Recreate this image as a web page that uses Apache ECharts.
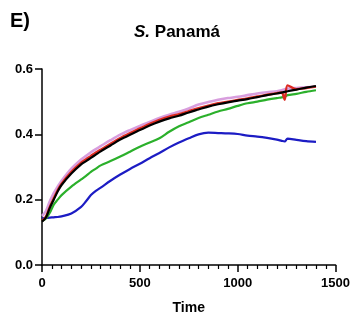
<!DOCTYPE html>
<html>
<head>
<meta charset="utf-8">
<script src="https://cdn.jsdelivr.net/npm/echarts@6/dist/echarts.min.js"></script>
<style>
  html, body { margin: 0; padding: 0; background: #fff; }
  #chart { width: 353px; height: 322px; }
</style>
</head>
<body>
<div id="chart"></div>
<script>
// Sampling times shared by every curve
const times = [0, 20, 40, 60, 80, 100, 150, 200, 225, 250, 275, 300, 350, 400, 450, 500, 550, 600, 650, 700,
  750, 800, 850, 900, 950, 1000, 1050, 1100, 1150, 1200, 1225, 1240, 1255, 1300, 1350, 1400];

const violetVals = [0.150, 0.165, 0.195, 0.220, 0.240, 0.258, 0.295, 0.323, 0.334, 0.345, 0.355, 0.364, 0.382, 0.399, 0.413, 0.426,
  0.438, 0.450, 0.460, 0.469, 0.479, 0.491, 0.499, 0.506, 0.511, 0.515, 0.520, 0.525, 0.529, 0.532, 0.535, 0.538, 0.540, 0.542, 0.544, 0.546];
const blueVals = [0.143, 0.144, 0.145, 0.146, 0.147, 0.149, 0.158, 0.178, 0.195, 0.214, 0.227, 0.237, 0.258, 0.277, 0.294, 0.310,
  0.327, 0.343, 0.360, 0.375, 0.388, 0.400, 0.405, 0.404, 0.403, 0.401, 0.396, 0.393, 0.389, 0.384, 0.380, 0.378, 0.387, 0.383, 0.379, 0.377];
const greenVals = [0.135, 0.142, 0.160, 0.185, 0.200, 0.214, 0.240, 0.262, 0.273, 0.285, 0.295, 0.305, 0.318, 0.332, 0.347, 0.362,
  0.375, 0.388, 0.408, 0.425, 0.437, 0.450, 0.460, 0.470, 0.478, 0.487, 0.495, 0.500, 0.506, 0.511, 0.513, 0.515, 0.520, 0.524, 0.530, 0.535];
const redVals = [0.135, 0.148, 0.178, 0.204, 0.229, 0.249, 0.285, 0.313, 0.324, 0.334, 0.344, 0.353, 0.371, 0.389, 0.404, 0.418,
  0.432, 0.444, 0.454, 0.462, 0.471, 0.480, 0.488, 0.495, 0.500, 0.505, 0.510, 0.516, 0.521, 0.526, 0.528, 0.506, 0.550, 0.538, 0.542, 0.546];
const blackVals = [0.133, 0.145, 0.175, 0.200, 0.225, 0.245, 0.280, 0.308, 0.318, 0.328, 0.338, 0.348, 0.366, 0.384, 0.399, 0.413,
  0.427, 0.439, 0.449, 0.457, 0.467, 0.476, 0.485, 0.492, 0.498, 0.503, 0.508, 0.514, 0.520, 0.525, 0.528, 0.530, 0.532, 0.537, 0.543, 0.548];

const xTicks = [0, 500, 1000, 1500];
const yTicks = [0.0, 0.2, 0.4, 0.6];

const FONT = 'Liberation Sans, Arial, sans-serif';

function pairs(vals) {
  return times.map((t, i) => [t, vals[i]]);
}

function curve(name, vals, color, width) {
  return {
    name: name,
    type: 'line',
    data: pairs(vals),
    showSymbol: false,
    smooth: 0.3,
    lineStyle: { color: color, width: width },
    itemStyle: { color: color },
    animation: false,
    z: 2
  };
}

const chart = echarts.init(document.getElementById('chart'), null, { renderer: 'canvas' });

chart.setOption({
  backgroundColor: '#ffffff',
  animation: false,
  textStyle: { fontFamily: FONT },
  title: [
    {
      text: 'E)',
      left: 5,
      top: 6,
      textStyle: { fontFamily: FONT, fontWeight: 'bold', fontSize: 20, color: '#000' }
    },
    {
      text: '{i|S.}{n| Panamá}',
      left: 172,
      top: 19,
      textAlign: 'center',
      textStyle: {
        rich: {
          i: { fontFamily: FONT, fontWeight: 'bold', fontStyle: 'italic', fontSize: 17, color: '#000' },
          n: { fontFamily: FONT, fontWeight: 'bold', fontSize: 17, color: '#000' }
        }
      }
    }
  ],
  grid: { left: 42, right: 15, top: 69, bottom: 57, containLabel: false },
  xAxis: {
    type: 'value',
    min: xTicks[0],
    max: xTicks[xTicks.length - 1],
    interval: 500,
    name: 'Time',
    nameLocation: 'middle',
    nameGap: 36,
    nameTextStyle: { fontFamily: FONT, fontWeight: 'bold', fontSize: 14, color: '#000' },
    axisLine: { show: true, lineStyle: { color: '#000', width: 1.5 } },
    axisTick: { show: true, length: 7, lineStyle: { color: '#000', width: 1.5 } },
    minorTick: { show: true, splitNumber: 10, length: 4, lineStyle: { color: '#000', width: 1.2 } },
    axisLabel: {
      fontFamily: FONT, fontWeight: 'bold', fontSize: 13, color: '#000', margin: 12,
      formatter: v => String(v)
    },
    splitLine: { show: false }
  },
  yAxis: {
    type: 'value',
    min: yTicks[0],
    max: yTicks[yTicks.length - 1],
    interval: 0.2,
    axisLine: { show: true, lineStyle: { color: '#000', width: 1.5 } },
    axisTick: { show: true, length: 7, lineStyle: { color: '#000', width: 1.5 } },
    axisLabel: {
      fontFamily: FONT, fontWeight: 'bold', fontSize: 13, color: '#000', margin: 9,
      formatter: v => v.toFixed(1)
    },
    splitLine: { show: false }
  },
  series: [
    curve('violet', violetVals, '#d89ede', 2.6),
    curve('blue', blueVals, '#1c1cc4', 2.2),
    curve('green', greenVals, '#2bb02b', 2.2),
    curve('red', redVals, '#dd2a22', 2.4),
    curve('black', blackVals, '#000000', 2.2)
  ]
});
</script>
</body>
</html>
